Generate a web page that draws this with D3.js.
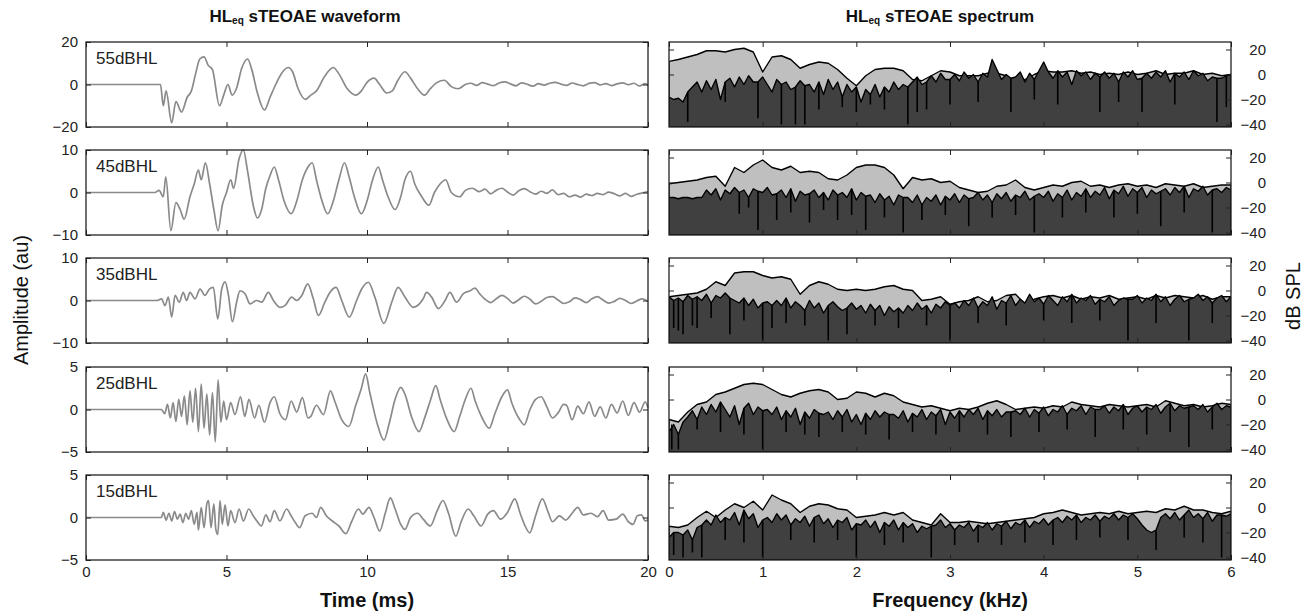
<!DOCTYPE html>
<html>
<head>
<meta charset="utf-8">
<script src="https://cdn.jsdelivr.net/npm/d3@7"></script>
<style>
body { margin: 0; background: #fff; }
text { font-family: "Liberation Sans", Arial, sans-serif; }
</style>
</head>
<body>
<div id="chart"></div>
<script>
// panel labels and amplitude limits
var levels = ["55dBHL", "45dBHL", "35dBHL", "25dBHL", "15dBHL"];
var ampLimits = [20, 10, 10, 5, 5];
var timeTicks = [0, 5, 10, 15, 20];
var freqTicks = [0, 1, 2, 3, 4, 5, 6];
var dbTicks = [20, 0, -20, -40];

// waveforms, [time ms, amplitude]
var wave55 = [[0,0],[2.65,0],[2.75,-10],[2.85,-3],[3.05,-18],[3.2,-8],[3.4,-13],[3.6,-6],[3.75,-3],[3.9,5],[4.05,12],[4.2,13],[4.35,9],[4.5,7],[4.75,-10],[4.9,-5],[5.05,0],[5.2,-5],[5.35,-2],[5.55,8],[5.75,12],[5.9,7],[6.1,-4],[6.35,-12],[6.55,-6],[6.75,0],[7.0,6],[7.2,8],[7.35,6],[7.55,-2],[7.8,-7],[8.0,-5],[8.2,-3],[8.5,4],[8.8,8],[9.0,5],[9.3,-2],[9.6,-5],[9.8,-3],[10.0,1],[10.25,3],[10.45,0],[10.7,-4],[10.9,-3],[11.1,2],[11.35,6],[11.55,3],[11.8,-2],[12.05,-5],[12.25,-2],[12.5,1],[12.75,2],[13.0,-1],[13.25,-2],[13.5,0],[13.7,0.6],[13.9,-0.4],[14.1,0.9],[14.3,0.2],[14.5,-0.5],[14.7,0.7],[14.9,1.2],[15.1,0.3],[15.3,-0.6],[15.5,0.8],[15.7,0.1],[15.9,-0.8],[16.1,0.4],[16.3,-0.3],[16.5,0.6],[16.7,1.0],[16.9,0.2],[17.1,-0.4],[17.3,0.7],[17.5,0.0],[17.7,-0.6],[17.9,0.5],[18.1,0.9],[18.3,-0.2],[18.5,0.4],[18.7,-0.5],[18.9,0.3],[19.1,0.8],[19.3,-0.1],[19.5,0.6],[19.7,-0.7],[19.9,0.4],[20.0,-0.3]];
var wave45 = [[0,0],[2.45,0],[2.6,0.5],[2.75,-1],[2.84,3.7],[3.02,-9],[3.2,-2.4],[3.35,-4],[3.49,-6.3],[3.7,-1],[3.85,2],[4.0,5.3],[4.1,3],[4.25,7],[4.4,2],[4.55,-4],[4.7,-9],[4.85,-3],[5.0,0],[5.15,3],[5.25,1],[5.45,8],[5.6,10],[5.75,5],[5.95,-3],[6.1,-6],[6.25,-4],[6.4,1],[6.55,4],[6.7,6],[6.85,3],[7.05,-2],[7.3,-5],[7.5,-2],[7.7,3],[7.9,6],[8.05,7],[8.2,3],[8.4,-2],[8.6,-5],[8.8,-2],[9.0,3],[9.2,7],[9.35,4],[9.55,-1],[9.8,-5],[10.0,-2],[10.2,3],[10.4,6],[10.55,3],[10.75,-1],[11.0,-4],[11.2,-1],[11.35,3],[11.55,5],[11.7,2],[11.95,-1],[12.2,-3],[12.4,0],[12.6,2],[12.8,3],[13.0,0],[13.3,-1],[13.5,0.5],[13.75,1],[14.0,0.2],[14.2,0.8],[14.4,-0.3],[14.6,0.5],[14.8,1.0],[15.0,0.1],[15.2,-0.6],[15.4,0.4],[15.6,0.9],[15.8,0.2],[16.0,-0.4],[16.2,0.3],[16.4,-0.2],[16.6,0.6],[16.8,-0.5],[17.0,-0.2],[17.2,-1.0],[17.4,-0.6],[17.6,-1.1],[17.8,-0.4],[18.0,-0.7],[18.2,-0.2],[18.4,-0.5],[18.6,0.1],[18.8,-0.3],[19.0,-0.8],[19.2,-0.2],[19.4,-0.9],[19.6,-0.4],[19.8,-0.1],[20.0,0.2]];
var wave35 = [[0,0],[2.52,0],[2.69,0.4],[2.81,-1.2],[2.93,0.8],[3.05,-3.9],[3.17,1.2],[3.32,-0.4],[3.46,1.9],[3.58,0],[3.7,1.9],[3.88,0.4],[4.06,2.7],[4.23,1.2],[4.39,2.7],[4.53,3.1],[4.69,-4.3],[4.83,2.7],[4.95,4.4],[5.07,1.2],[5.21,-5],[5.36,-0.4],[5.48,2.3],[5.66,1.6],[5.84,-0.8],[6.07,0],[6.25,-0.4],[6.49,1.9],[6.67,0],[6.9,-1.6],[7.08,-1.2],[7.32,0.8],[7.5,0],[7.68,1.2],[7.89,3.9],[8.09,0.4],[8.27,-3.5],[8.5,-0.4],[8.68,1.9],[8.9,3.1],[9.1,0],[9.37,-3.9],[9.63,0],[9.81,2.7],[10.05,4.3],[10.28,0.8],[10.6,-5.4],[10.88,-0.4],[11.11,3.1],[11.35,0.8],[11.65,-1.6],[12.0,0.4],[12.12,1.9],[12.3,0.8],[12.54,-1.9],[12.78,0],[12.95,1.9],[13.19,-0.4],[13.43,1.6],[13.67,2.3],[13.84,2.9],[14.02,1.5],[14.2,0.3],[14.4,-0.5],[14.6,0.4],[14.8,1.2],[15.0,0.5],[15.2,-0.6],[15.4,0.2],[15.6,1.0],[15.8,0.3],[16.0,-0.8],[16.2,-0.2],[16.4,0.7],[16.6,0.9],[16.8,0.1],[17.0,-0.7],[17.2,-0.3],[17.4,0.6],[17.6,0.2],[17.8,-0.5],[18.0,0.4],[18.2,0.9],[18.4,0.1],[18.6,-0.6],[18.8,-0.2],[19.0,0.5],[19.2,0.0],[19.4,-0.7],[19.6,-0.1],[19.8,0.4],[20.0,-0.2]];
var wave25 = [[0,0],[2.69,0],[2.8,-0.5],[2.9,0.6],[3.0,-1],[3.1,0.8],[3.2,-1.4],[3.3,1.2],[3.4,-0.8],[3.5,1.6],[3.6,-1.8],[3.7,2.2],[3.8,-1.5],[3.9,2.5],[4.0,-2.6],[4.1,3.0],[4.2,-2.2],[4.3,1.8],[4.4,-3.0],[4.5,2.0],[4.6,-3.8],[4.7,3.5],[4.8,-1.5],[4.9,1.0],[5.0,-1.2],[5.15,0.8],[5.3,-0.6],[5.5,1.5],[5.65,-0.8],[5.8,1.2],[6.0,-1.0],[6.15,0.5],[6.35,-1.5],[6.55,0.8],[6.7,1.5],[6.9,-0.5],[7.1,-1.2],[7.3,1.0],[7.5,-0.3],[7.7,1.4],[7.9,-1.0],[8.0,-0.8],[8.2,0.5],[8.45,-0.6],[8.7,2.2],[8.85,1.0],[9.1,-1.2],[9.35,-2.0],[9.6,0.5],[9.8,2.5],[9.95,4.2],[10.1,2.0],[10.35,-1.5],[10.6,-3.6],[10.8,-1.5],[11.0,1.2],[11.2,2.6],[11.35,1.8],[11.6,-1.0],[11.85,-2.6],[12.05,-1.0],[12.25,1.0],[12.45,2.8],[12.6,1.2],[12.85,-1.2],[13.1,-2.6],[13.3,-0.8],[13.5,1.2],[13.7,2.5],[13.85,1.0],[14.1,-1.0],[14.35,-2.2],[14.55,-0.5],[14.8,1.5],[15.0,2.3],[15.15,0.8],[15.4,-1.0],[15.6,-1.8],[15.8,0],[16.0,1.2],[16.2,1.5],[16.4,0.3],[16.6,-1.0],[16.8,-0.4],[17.0,0.6],[17.1,0.5],[17.3,-1.2],[17.5,0.4],[17.7,-0.5],[17.9,0.9],[18.1,-0.8],[18.3,0.3],[18.5,-1.0],[18.7,0.6],[18.9,-0.4],[19.1,1.0],[19.3,-0.7],[19.5,0.8],[19.7,-0.3],[19.9,0.9],[20.0,0.2]];
var wave15 = [[0,0],[2.68,0],[2.75,0.6],[2.85,-0.3],[2.95,0.5],[3.05,-0.4],[3.15,0.7],[3.25,-0.2],[3.35,0.4],[3.45,-0.6],[3.55,0.5],[3.65,-0.2],[3.75,0.8],[3.85,-0.8],[3.95,0.6],[4.0,-1.5],[4.1,1.2],[4.2,-1.2],[4.3,1.6],[4.36,2.0],[4.45,-1.2],[4.55,1.6],[4.62,-1.4],[4.69,-2.0],[4.77,2.0],[4.85,-0.8],[4.95,1.5],[5.05,-1.0],[5.15,0.8],[5.3,-0.6],[5.45,1.0],[5.6,-0.4],[5.79,1.0],[5.95,0.2],[6.1,-0.5],[6.24,-1.0],[6.4,0.3],[6.55,-0.5],[6.7,0.8],[6.9,-0.4],[7.14,1.0],[7.3,0.2],[7.45,-0.6],[7.6,-1.2],[7.8,0.2],[8.05,0.5],[8.2,0],[8.35,1.2],[8.55,0.2],[8.8,-0.5],[9.0,-1.0],[9.25,-1.9],[9.45,-0.5],[9.7,1.0],[9.85,0.4],[10.07,1.2],[10.25,0],[10.45,-1.6],[10.65,0.5],[10.83,2.3],[11.0,1.0],[11.2,-0.8],[11.35,-1.4],[11.55,0],[11.8,0.5],[12.0,-0.2],[12.25,-1.0],[12.5,0.8],[12.7,2.0],[12.9,0.5],[13.16,-2.2],[13.35,-0.5],[13.6,1.0],[13.8,0.2],[14.06,-1.0],[14.3,0.4],[14.5,0.8],[14.75,-0.2],[15.0,0.6],[15.26,2.2],[15.45,0.5],[15.6,-0.8],[15.79,-1.8],[16.0,0.2],[16.24,2.2],[16.45,0.6],[16.6,-0.5],[16.85,0.2],[17.07,-0.3],[17.3,0.5],[17.5,1.2],[17.7,0.3],[17.97,0.5],[18.2,0.1],[18.4,0.8],[18.6,-0.3],[18.87,-0.2],[19.1,0.4],[19.3,-0.5],[19.47,-0.8],[19.62,0.2],[19.77,0.3],[19.9,-0.4],[20.0,-0.3]];

// spectra: signal every 0.1 kHz, noise floor every 0.05 kHz (dB SPL), dips [kHz, dB]
var signal55 = [10.5,12,14,16,19,19,18,20,21,18,2,14,15,12,5,8,10,9,4,-3,-9,-1,4,5,5,3,-4,-5,-1,3,2,-1,-1,-1,1,1,-1,-7,-4,0,3,2,2,3,1,2,0,1,0,2,0,1,3,0,1,1,3,0,1,-1,0];
var noise55 = [-18,-20,-19,-22,-14,-10,-6,-14,-5,-12,-4,-20,-6,-3,-10,-2,-8,-1,-6,-6,-2,-8,-14,-4,-8,-6,-12,-10,-5,-9,-8,-14,-6,-16,-4,-12,-6,-18,-8,-14,-10,-22,-12,-16,-8,-18,-10,-14,-6,-12,-8,-10,-6,-2,-8,-6,-1,-6,1,-4,-4,0,-5,2,-3,0,-6,1,-2,12,4,-4,0,-3,-2,2,-6,1,-4,3,10,2,-3,3,-2,2,-8,3,-1,2,-4,1,-2,2,-3,1,-6,2,-2,3,-4,-3,1,-3,2,-2,3,-6,1,-2,2,-4,3,-1,1,-5,-2,-3,-3,-1,0];
var dips55 = [[0.2,-38],[0.6,-22],[0.95,-35],[1.2,-40],[1.35,-40],[1.45,-40],[1.6,-28],[1.85,-26],[2.0,-30],[2.15,-24],[2.3,-28],[2.55,-40],[2.65,-30],[2.75,-28],[3.0,-24],[3.3,-22],[3.65,-30],[3.9,-20],[4.15,-24],[4.6,-30],[4.8,-22],[5.05,-30],[5.4,-24],[5.85,-38],[5.95,-26]];
var signal45 = [-1,0,1,2,4,5,-3,12,8,14,18,12,10,13,8,9,8,3,2,6,12,14,14,12,6,-5,4,2,3,0,1,-4,-6,-8,-7,-3,-2,2,-4,-6,-4,-2,-3,0,1,-3,-2,-4,-2,-1,-3,-2,-4,-1,-2,-3,-1,-4,-3,-2,-2];
var noise45 = [-12,-12,-13,-12,-12,-13,-12,-12,-6,-10,-5,-14,-6,-9,-4,-8,-6,-12,-5,-7,-8,-4,-10,-9,-6,-12,-5,-15,-7,-10,-9,-6,-12,-8,-14,-6,-10,-8,-12,-5,-14,-8,-11,-10,-16,-9,-14,-11,-18,-10,-12,-12,-16,-10,-18,-12,-15,-10,-18,-11,-14,-9,-16,-10,-13,-12,-8,-14,-10,-16,-9,-13,-8,-15,-10,-12,-7,-14,-11,-9,-12,-7,-15,-9,-12,-6,-14,-8,-11,-5,-12,-7,-10,-4,-13,-6,-9,-3,-11,-5,-8,-4,-12,-6,-9,-7,-5,-10,-4,-8,-3,-12,-5,-7,-3,-10,-6,-5,-8,-4,-6];
var dips45 = [[0.75,-25],[0.85,-20],[0.95,-38],[1.15,-30],[1.3,-24],[1.5,-32],[1.65,-22],[1.8,-30],[1.95,-26],[2.1,-38],[2.3,-28],[2.5,-40],[2.7,-30],[2.95,-26],[3.2,-35],[3.45,-28],[3.7,-26],[3.9,-40],[4.2,-28],[4.45,-24],[4.75,-28],[5.0,-25],[5.25,-35],[5.5,-24],[5.8,-40]];
var signal35 = [-5,-4,-3,-2,1,7,4,14,15,15,12,10,11,9,-3,4,7,5,1,0,1,0,1,3,4,1,0,-8,-7,-5,-11,-9,-8,-5,-9,-8,-4,-3,-11,-7,-5,-4,-6,-4,-7,-5,-6,-4,-7,-6,-5,-7,-4,-6,-4,-5,-6,-4,-7,-5,-5];
var noise35 = [-5,-8,-6,-9,-4,-7,-5,-8,-3,-10,-4,-6,-2,-6,-8,-10,-6,-12,-7,-14,-10,-9,-12,-8,-12,-6,-14,-9,-12,-16,-8,-14,-10,-18,-12,-9,-13,-16,-14,-10,-15,-12,-18,-11,-16,-12,-20,-13,-17,-14,-18,-12,-16,-10,-15,-12,-18,-11,-14,-9,-12,-10,-14,-8,-12,-6,-14,-9,-12,-5,-15,-8,-10,-4,-12,-7,-10,-3,-9,-6,-11,-4,-8,-12,-5,-9,-3,-10,-6,-8,-4,-11,-7,-9,-5,-12,-8,-6,-7,-7,-4,-10,-6,-8,-3,-9,-5,-12,-7,-4,-9,-7,-6,-3,-8,-5,-10,-6,-4,-9,-5];
var dips35 = [[0.05,-30],[0.1,-32],[0.15,-35],[0.25,-28],[0.3,-30],[0.45,-22],[0.65,-35],[0.8,-24],[1.0,-40],[1.1,-30],[1.25,-26],[1.45,-28],[1.7,-40],[1.9,-35],[2.2,-28],[2.45,-30],[2.75,-28],[3.0,-40],[3.3,-26],[3.6,-28],[4.0,-24],[4.3,-26],[4.6,-24],[4.9,-40],[5.2,-26],[5.55,-40],[5.8,-26]];
var signal25 = [-16,-18,-10,-4,-2,4,6,9,12,13,12,8,4,2,5,7,8,6,0,1,6,5,2,5,3,-2,-4,-6,-5,-7,-9,-7,-8,-6,-3,-1,-4,-8,-7,-6,-7,-5,-6,-2,-4,-5,-6,-4,-5,-6,-5,-4,-6,-1,-3,-5,-4,-6,-5,-3,-4];
var noise25 = [-26,-20,-28,-18,-14,-9,-16,-6,-12,-4,-10,-2,-8,-14,-5,-20,-7,-3,-12,-6,-9,-8,-12,-6,-16,-9,-14,-7,-20,-10,-15,-8,-11,-12,-10,-16,-9,-14,-8,-18,-12,-20,-11,-16,-9,-14,-10,-12,-12,-15,-9,-18,-11,-14,-8,-16,-10,-13,-8,-20,-10,-15,-9,-14,-8,-12,-7,-16,-9,-13,-8,-14,-10,-10,-9,-12,-7,-14,-8,-11,-6,-13,-8,-10,-5,-12,-7,-9,-5,-12,-6,-8,-8,-5,-11,-6,-9,-4,-12,-7,-5,-10,-6,-8,-4,-11,-6,-3,-9,-5,-7,-6,-5,-8,-4,-10,-6,-3,-8,-5,-6];
var dips25 = [[0.03,-40],[0.1,-40],[0.3,-24],[0.55,-26],[0.8,-28],[1.0,-40],[1.25,-26],[1.45,-28],[1.6,-30],[1.85,-26],[2.1,-28],[2.35,-32],[2.6,-26],[2.85,-28],[3.1,-26],[3.4,-28],[3.65,-30],[3.95,-26],[4.25,-24],[4.55,-30],[4.85,-24],[5.1,-28],[5.35,-26],[5.55,-38],[5.8,-24]];
var signal15 = [-15,-16,-14,-8,-3,-8,-2,3,0,5,-2,10,6,3,-4,1,3,2,-1,-2,-8,-7,-6,-4,-6,-4,-10,-12,-14,-5,-12,-12,-11,-12,-13,-12,-11,-10,-9,-8,-5,-4,-2,-4,-6,-5,-4,-5,-3,-5,-4,-3,-4,-1,-2,1,-2,-2,-4,-5,-3];
var noise15 = [-24,-20,-20,-22,-18,-26,-16,-14,-10,-14,-6,-12,-8,-10,-4,-14,-2,-9,-5,-16,-10,-8,-12,-5,-10,-6,-14,-9,-12,-7,-15,-8,-6,-13,-9,-16,-10,-12,-8,-18,-13,-14,-10,-16,-11,-20,-12,-15,-10,-18,-12,-16,-13,-20,-15,-17,-15,-14,-10,-16,-13,-18,-14,-16,-12,-19,-14,-16,-12,-18,-13,-15,-11,-17,-12,-14,-10,-16,-11,-13,-9,-14,-10,-8,-12,-7,-10,-6,-12,-8,-10,-6,-11,-7,-9,-5,-10,-6,-8,-5,-9,-14,-18,-20,-18,-8,-5,-9,-4,-10,-6,-2,-8,-5,-9,-4,-11,-6,-6,-7,-5];
var dips15 = [[0.05,-38],[0.15,-40],[0.25,-36],[0.35,-40],[0.6,-26],[0.8,-28],[1.0,-40],[1.3,-26],[1.55,-28],[1.8,-26],[2.0,-40],[2.3,-30],[2.5,-28],[2.8,-40],[3.05,-30],[3.3,-28],[3.55,-30],[3.8,-28],[4.1,-30],[4.35,-26],[4.6,-24],[4.9,-26],[5.2,-34],[5.5,-24],[5.7,-28],[5.9,-40]];

var waves = [wave55, wave45, wave35, wave25, wave15];
var signals = [signal55, signal45, signal35, signal25, signal15];
var noises = [noise55, noise45, noise35, noise25, noise15];
var dips = [dips55, dips45, dips35, dips25, dips15];

var width = 1310, height = 616;
var panelTops = [42, 150, 258, 367, 475];
var panelH = 85;
var leftX = [86, 648], rightX = [669, 1231];
var dbMin = -42, dbMax = 26;
var sigStep = 0.1, noiseStep = 0.05;

var svg = d3.select("#chart").append("svg")
    .attr("width", width)
    .attr("height", height);

var xTime = d3.scaleLinear().domain([0, 20]).range(leftX);
var xFreq = d3.scaleLinear().domain([0, 6]).range(rightX);

svg.append("defs").selectAll("clipPath")
    .data(panelTops)
    .enter().append("clipPath")
    .attr("id", (d, i) => "clipR" + i)
    .append("rect")
    .attr("x", rightX[0]).attr("y", d => d)
    .attr("width", rightX[1] - rightX[0]).attr("height", panelH);

panelTops.forEach(function (top, i) {
    var lim = ampLimits[i];
    var yAmp = d3.scaleLinear().domain([-lim, lim]).range([top + panelH, top]);
    var yDb = d3.scaleLinear().domain([dbMin, dbMax]).range([top + panelH, top]);
    var last = i === panelTops.length - 1;

    // ---- waveform ----
    var line = d3.line()
        .curve(d3.curveMonotoneX)
        .x(d => xTime(d[0]))
        .y(d => yAmp(d[1]));
    svg.append("path")
        .datum(waves[i])
        .attr("d", line)
        .attr("fill", "none")
        .attr("stroke", "#8a8a8a")
        .attr("stroke-width", 1.7)
        .attr("stroke-linejoin", "round");

    svg.append("text")
        .attr("x", 96).attr("y", top + 22)
        .attr("font-size", 17)
        .attr("fill", "#222")
        .text(levels[i]);

    svg.append("g").attr("transform", "translate(" + leftX[0] + ",0)")
        .call(d3.axisLeft(yAmp).tickValues([-lim, 0, lim]).tickSize(-5).tickPadding(8));
    svg.append("g").attr("transform", "translate(" + leftX[1] + ",0)")
        .call(d3.axisRight(yAmp).tickValues([-lim, 0, lim]).tickSize(-5).tickFormat(""));
    svg.append("g").attr("transform", "translate(0," + (top + panelH) + ")")
        .call(d3.axisBottom(xTime).tickValues(timeTicks).tickSize(-5).tickPadding(6)
            .tickFormat(last ? d3.format("d") : ""));
    svg.append("g").attr("transform", "translate(0," + top + ")")
        .call(d3.axisTop(xTime).tickValues(timeTicks).tickSize(-5).tickFormat(""));

    // ---- spectrum ----
    var sigData = signals[i].map((v, k) => ({ f: k * sigStep, v: v }));
    var noiseData = noises[i].map((v, k) => ({ f: k * noiseStep, v: v }));
    var area = d3.area()
        .x(d => xFreq(d.f))
        .y0(yDb(dbMin))
        .y1(d => yDb(d.v));
    var gs = svg.append("g").attr("clip-path", "url(#clipR" + i + ")");
    gs.append("path").datum(sigData)
        .attr("d", area)
        .attr("fill", "#bfbfbf")
        .attr("stroke", "#000")
        .attr("stroke-width", 1.4)
        .attr("stroke-linejoin", "round");
    gs.append("path").datum(noiseData)
        .attr("d", area)
        .attr("fill", "#404040")
        .attr("stroke", "#000")
        .attr("stroke-width", 1.4)
        .attr("stroke-linejoin", "round");
    // narrow dips of the noise floor
    gs.selectAll("line.dip").data(dips[i]).enter().append("line")
        .attr("class", "dip")
        .attr("x1", d => xFreq(d[0])).attr("x2", d => xFreq(d[0]))
        .attr("y1", d => yDb(noises[i][Math.round(d[0] / noiseStep)]))
        .attr("y2", d => yDb(d[1]))
        .attr("stroke", "#000")
        .attr("stroke-width", 1.6);

    svg.append("g").attr("transform", "translate(" + rightX[1] + ",0)")
        .call(d3.axisRight(yDb).tickValues(dbTicks).tickSize(-5).tickPadding(35))
        .selectAll("text").attr("text-anchor", "end");
    svg.append("g").attr("transform", "translate(" + rightX[0] + ",0)")
        .call(d3.axisLeft(yDb).tickValues([20, 0]).tickSize(-5).tickFormat(""));
    svg.append("g").attr("transform", "translate(0," + (top + panelH) + ")")
        .call(d3.axisBottom(xFreq).tickValues(freqTicks).tickSize(-5).tickPadding(6)
            .tickFormat(last ? d3.format("d") : ""));
    svg.append("g").attr("transform", "translate(0," + top + ")")
        .call(d3.axisTop(xFreq).tickValues(freqTicks).tickSize(-5).tickFormat(""));

    // panel boxes
    [leftX, rightX].forEach(function (xr) {
        svg.append("rect")
            .attr("x", xr[0]).attr("y", top)
            .attr("width", xr[1] - xr[0]).attr("height", panelH)
            .attr("fill", "none")
            .attr("stroke", "#222")
            .attr("stroke-width", 1.3);
    });
});

svg.selectAll(".domain").remove();
svg.selectAll(".tick line").attr("stroke", "#222");
svg.selectAll(".tick text")
    .attr("font-family", "'Liberation Sans', Arial, sans-serif")
    .attr("font-size", 15)
    .attr("fill", "#222");

// titles
function title(x, rest) {
    var t = svg.append("text")
        .attr("x", x).attr("y", 22)
        .attr("text-anchor", "middle")
        .attr("font-family", "'Open Sans', sans-serif")
        .attr("font-weight", "bold")
        .attr("font-size", 17)
        .attr("fill", "#111");
    t.append("tspan").text("HL");
    t.append("tspan").attr("font-size", 10).attr("dy", 2).text("eq");
    t.append("tspan").attr("dy", -2).text(" " + rest);
}
title(305, "sTEOAE waveform");
title(940, "sTEOAE spectrum");

svg.append("text")
    .attr("x", 367).attr("y", 607)
    .attr("text-anchor", "middle")
    .attr("font-size", 20)
    .attr("font-weight", "bold")
    .attr("fill", "#111")
    .text("Time (ms)");
svg.append("text")
    .attr("x", 950).attr("y", 607)
    .attr("text-anchor", "middle")
    .attr("font-size", 20)
    .attr("font-weight", "bold")
    .attr("fill", "#111")
    .text("Frequency (kHz)");
svg.append("text")
    .attr("transform", "translate(28,300) rotate(-90)")
    .attr("text-anchor", "middle")
    .attr("font-size", 20)
    .attr("fill", "#111")
    .text("Amplitude (au)");
svg.append("text")
    .attr("transform", "translate(1300,296) rotate(-90)")
    .attr("text-anchor", "middle")
    .attr("font-size", 20)
    .attr("fill", "#111")
    .text("dB SPL");
</script>
</body>
</html>
